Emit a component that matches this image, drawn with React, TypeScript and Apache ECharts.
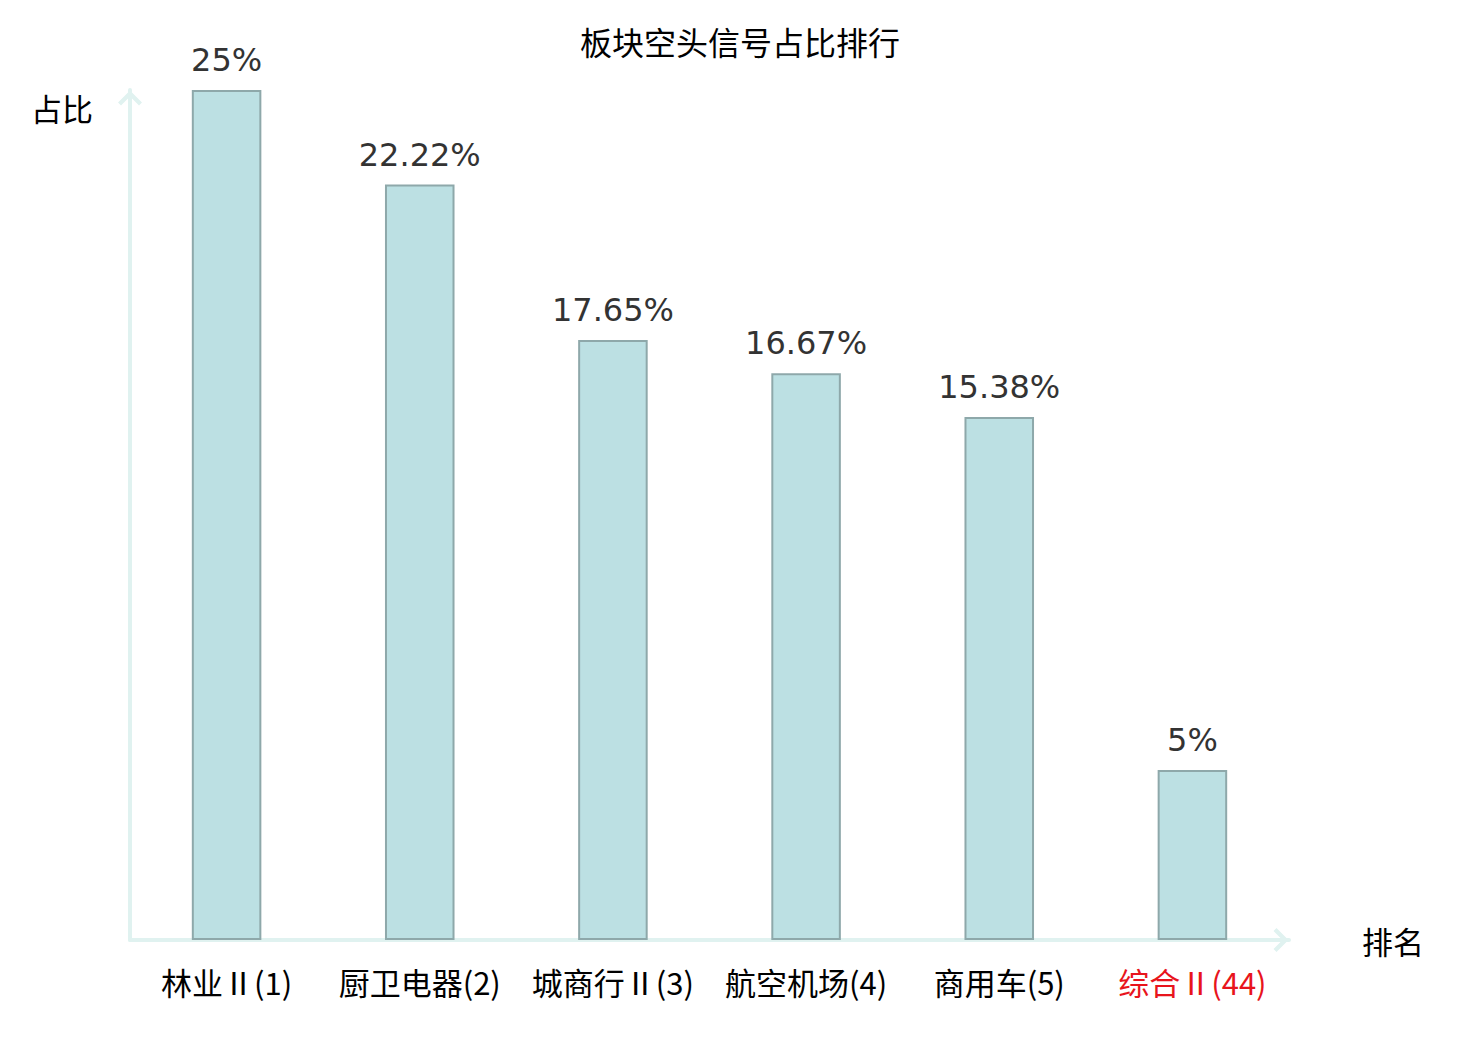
import React, { useEffect, useRef } from "react";
import * as echarts from "echarts";

const categories = ["林业Ⅱ(1)", "厨卫电器(2)", "城商行Ⅱ(3)", "航空机场(4)", "商用车(5)", "综合Ⅱ(44)"];
const values = [25, 22.22, 17.65, 16.67, 15.38, 5];
const highlightIndex = 5;

const chevron = "path://M12,0 L24,12 L21,15 L12,6 L3,15 L0,12 Z";

export default function App() {
  const ref = useRef<HTMLDivElement>(null);
  useEffect(() => {
    document.body.style.margin = "0";
    const chart = echarts.init(ref.current!, null, { renderer: "svg" });
    const axisLine = {
      show: true,
      symbol: ["none", chevron],
      symbolSize: [24, 18],
      symbolOffset: [0, -8],
      lineStyle: { color: "#e0f2f0", width: 4 },
    };
    chart.setOption({
      animation: false,
      backgroundColor: "#ffffff",
      title: {
        text: "板块空头信号占比排行",
        left: "center",
        top: 20,
        textStyle: { fontSize: 32, fontWeight: "normal", color: "#000", fontFamily: "Noto Sans CJK SC" },
      },
      grid: { left: 130, right: 191, top: 90, bottom: 100, containLabel: false },
      xAxis: {
        type: "category",
        data: categories.map((c, i) =>
          i === highlightIndex ? { value: c, textStyle: { color: "#e8141c" } } : c
        ),
        name: "排名",
        nameLocation: "end",
        nameGap: 73,
        nameTextStyle: { fontSize: 31, color: "#000", fontFamily: "Noto Sans CJK SC" },
        axisLine,
        axisTick: { show: false },
        axisLabel: { fontSize: 31, color: "#000", margin: 26, fontFamily: "Noto Sans CJK SC", interval: 0 },
      },
      yAxis: {
        type: "value",
        min: 0,
        max: 25,
        name: "占比",
        nameLocation: "end",
        nameGap: -2,
        nameTextStyle: {
          fontSize: 31,
          color: "#000",
          fontFamily: "Noto Sans CJK SC",
          align: "right",
          verticalAlign: "top",
          padding: [0, 37, 0, 0],
        },
        axisLine,
        axisTick: { show: false },
        axisLabel: { show: false },
        splitLine: { show: false },
      },
      series: [
        {
          type: "bar",
          data: values,
          barWidth: "36%",
          itemStyle: { color: "#bce0e3", borderColor: "#8ea8aa", borderWidth: 2 },
          label: {
            show: true,
            position: "top",
            distance: 14,
            formatter: (p: any) => p.value + "%",
            fontSize: 32,
            color: "#333",
            fontFamily: "DejaVu Sans",
          },
        },
      ],
    });
    return () => chart.dispose();
  }, []);
  return <div ref={ref} style={{ width: 1480, height: 1040 }} />;
}
